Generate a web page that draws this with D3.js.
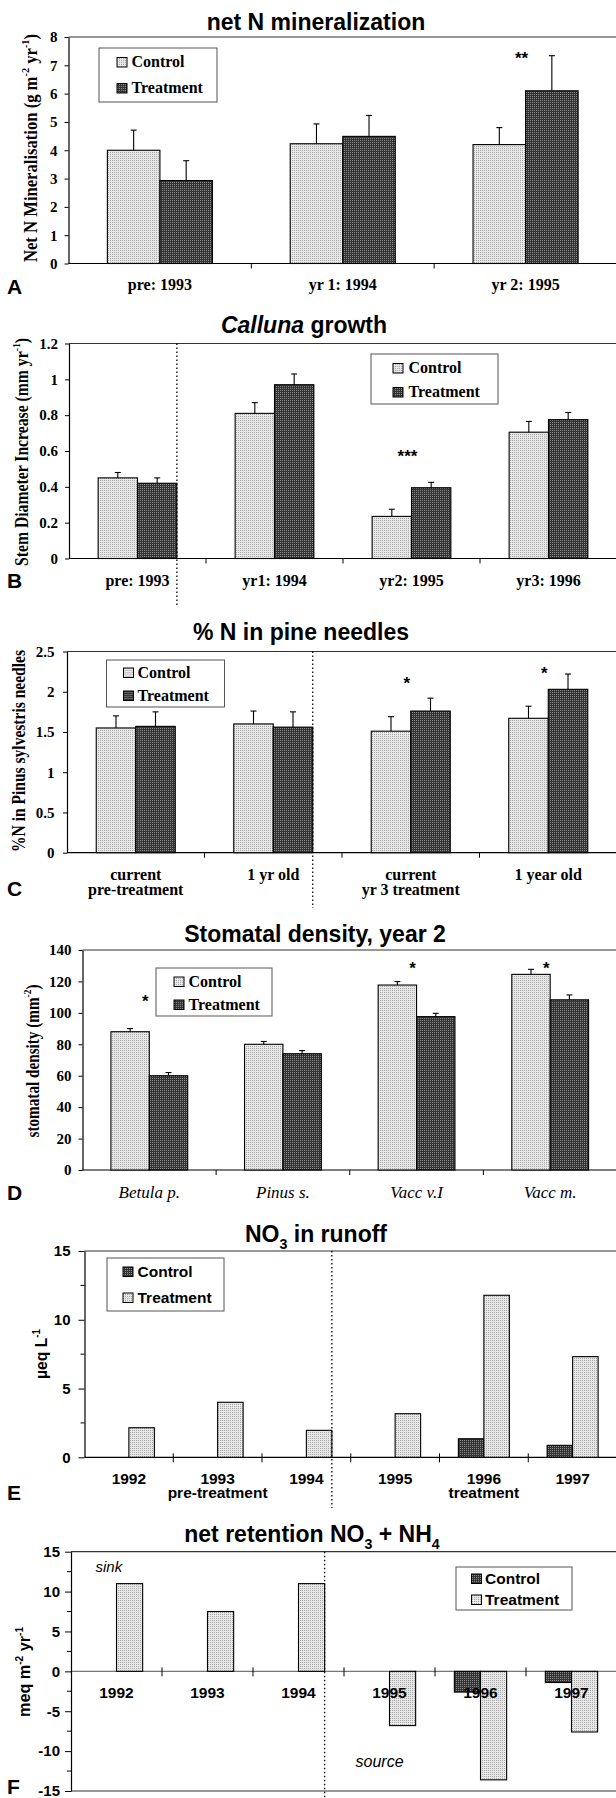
<!DOCTYPE html>
<html>
<head>
<meta charset="utf-8">
<script src="https://cdn.jsdelivr.net/npm/d3@7"></script>
<style>
  body { margin: 0; background: #fff; }
  svg { display: block; }
</style>
</head>
<body>
<script>
// ---- data ----
var aCats = [["pre: 1993"], ["yr 1: 1994"], ["yr 2: 1995"]];
var aControl = [4.0, 4.23, 4.2];
var aControlSE = [0.71, 0.7, 0.6];
var aTreat = [2.93, 4.49, 6.1];
var aTreatSE = [0.7, 0.74, 1.24];
var aTicks = [0, 1, 2, 3, 4, 5, 6, 7, 8];

var bCats = [["pre: 1993"], ["yr1: 1994"], ["yr2: 1995"], ["yr3: 1996"]];
var bControl = [0.45, 0.81, 0.235, 0.705];
var bControlSE = [0.03, 0.06, 0.04, 0.06];
var bTreat = [0.42, 0.97, 0.395, 0.775];
var bTreatSE = [0.03, 0.06, 0.03, 0.04];
var bTicks = [0, 0.2, 0.4, 0.6, 0.8, 1, 1.2];

var cCats = [["current", "pre-treatment"], ["1 yr old"], ["current", "yr 3 treatment"], ["1 year old"]];
var cControl = [1.55, 1.6, 1.51, 1.67];
var cControlSE = [0.15, 0.16, 0.18, 0.15];
var cTreat = [1.57, 1.56, 1.76, 2.03];
var cTreatSE = [0.18, 0.19, 0.16, 0.19];
var cTicks = [0, 0.5, 1, 1.5, 2, 2.5];

var dCats = [["Betula p."], ["Pinus s."], ["Vacc v.I"], ["Vacc m."]];
var dControl = [88, 80, 117.7, 124.5];
var dControlSE = [2, 1.8, 2.2, 3.2];
var dTreat = [60, 74, 97.6, 108.3];
var dTreatSE = [2, 2, 2.1, 3.1];
var dTicks = [0, 20, 40, 60, 80, 100, 120, 140];

var eCats = [["1992"], ["1993", "pre-treatment"], ["1994"], ["1995"], ["1996", "treatment"], ["1997"]];
var eControl = [0, 0, 0, 0, 1.35, 0.87];
var eTreat = [2.15, 4.0, 1.96, 3.17, 11.78, 7.32];
var eTicks = [0, 5, 10, 15];
var eMinor = [2.5, 7.5, 12.5];

var fCats = [["1992"], ["1993"], ["1994"], ["1995"], ["1996"], ["1997"]];
var fControl = [0, 0, 0, 0, -2.6, -1.4];
var fTreat = [11.0, 7.5, 11.0, -6.8, -13.6, -7.6];
var fTicks = [-15, -10, -5, 0, 5, 10, 15];
var fMinor = [-12.5, -7.5, -2.5, 2.5, 7.5, 12.5];

// significance marks: category index, text, height in data units
var aStars = [{ cat: 2, text: "**", v: 7.05 }];
var bStars = [{ cat: 2, text: "***", v: 0.54 }];
var cStars = [{ cat: 2, text: "*", v: 2.04 }, { cat: 3, text: "*", v: 2.16 }];
var dStars = [{ cat: 0, text: "*", v: 104 }, { cat: 2, text: "*", v: 125 }, { cat: 3, text: "*", v: 125 }];

var SERIF = "'Liberation Serif', 'Times New Roman', serif";
var SANS = "'Liberation Sans', Arial, sans-serif";

var svg = d3.select("body").append("svg")
    .attr("width", 616)
    .attr("height", 1798);

// stipple patterns like the printed figure
var defs = svg.append("defs");
function stipple(id, base, dot) {
    var p = defs.append("pattern")
        .attr("id", id)
        .attr("width", 2)
        .attr("height", 2)
        .attr("patternUnits", "userSpaceOnUse");
    p.append("rect").attr("width", 2).attr("height", 2).attr("fill", base);
    p.append("rect").attr("width", 1).attr("height", 1).attr("fill", dot);
}
stipple("light", "#e8e8e8", "#a6a6a6");
stipple("dark", "#333333", "#8c8c8c");

// text with super/subscripts: segs = [[text, "sup"|"sub"|undefined], ...]
function richText(textSel, segs, size) {
    var shift = 0;
    segs.forEach(function (s) {
        var target = s[1] === "sup" ? -0.42 * size : (s[1] === "sub" ? 0.3 * size : 0);
        var t = textSel.append("tspan")
            .attr("dy", target - shift)
            .attr("font-size", s[1] ? size * 0.62 : size)
            .text(s[0]);
        if (s[2]) t.attr("font-style", s[2]);
        shift = target;
    });
}

function drawPanel(p) {
    var g = svg.append("g");
    var n = p.cats.length;
    var x0 = d3.scaleBand().domain(d3.range(n)).range([p.left, p.right]);
    var x1 = d3.scaleBand().domain(p.series.map(function (s) { return s.key; }))
        .range([0, x0.bandwidth()])
        .paddingInner(0)
        .paddingOuter(0.74);
    var y = d3.scaleLinear().domain(p.yDomain).range([p.bottom, p.top]);

    // plot frame
    g.append("line")
        .attr("x1", p.left).attr("x2", p.right)
        .attr("y1", p.top).attr("y2", p.top)
        .attr("stroke", "#333").attr("stroke-width", 1.2);
    if (p.frameBottom) {
        g.append("line")
            .attr("x1", p.left).attr("x2", p.right)
            .attr("y1", p.bottom).attr("y2", p.bottom)
            .attr("stroke", "#333").attr("stroke-width", 1.2);
    }

    // category axis (zero line) with ticks on the category boundaries
    var y0 = y(0);
    g.append("line")
        .attr("x1", p.left).attr("x2", p.right)
        .attr("y1", y0).attr("y2", y0)
        .attr("stroke", p.zeroColor || "#000").attr("stroke-width", 1.2);
    g.selectAll(null).data(d3.range(1, n)).join("line")
        .attr("x1", function (i) { return x0(i); })
        .attr("x2", function (i) { return x0(i); })
        .attr("y1", y0 - (p.crossTicks ? 4 : 0))
        .attr("y2", y0 + 5)
        .attr("stroke", "#000").attr("stroke-width", 1);

    // bars
    p.series.forEach(function (s) {
        var idx = d3.range(n).filter(function (i) { return s.values[i] !== 0; });
        g.selectAll(null).data(idx).join("rect")
            .attr("x", function (i) { return x0(i) + x1(s.key); })
            .attr("y", function (i) { return y(Math.max(0, s.values[i])); })
            .attr("width", x1.bandwidth())
            .attr("height", function (i) { return Math.abs(y(s.values[i]) - y(0)); })
            .attr("fill", "url(#" + s.fill + ")")
            .attr("stroke", "#000")
            .attr("stroke-width", 1.1);
        if (s.se) {
            var eb = g.selectAll(null).data(idx).join("g")
                .attr("transform", function (i) {
                    return "translate(" + (x0(i) + x1(s.key) + x1.bandwidth() / 2) + ",0)";
                });
            eb.append("line")
                .attr("y1", function (i) { return y(s.values[i]); })
                .attr("y2", function (i) { return y(s.values[i] + s.se[i]); })
                .attr("stroke", "#000").attr("stroke-width", 1.1);
            eb.append("line")
                .attr("x1", -3).attr("x2", 3)
                .attr("y1", function (i) { return y(s.values[i] + s.se[i]); })
                .attr("y2", function (i) { return y(s.values[i] + s.se[i]); })
                .attr("stroke", "#000").attr("stroke-width", 1.1);
        }
    });

    // value axis
    var ax = d3.axisLeft(y)
        .tickValues(p.yTicks)
        .tickSize(p.minor ? 6 : 4)
        .tickSizeOuter(0)
        .tickPadding(p.tickPad)
        .tickFormat(d3.format("~g"));
    var axg = g.append("g")
        .attr("transform", "translate(" + p.left + ",0)")
        .call(ax);
    axg.select(".domain").attr("stroke", "#000").attr("stroke-width", 1.2);
    axg.selectAll("text")
        .attr("font-family", p.tickFont)
        .attr("font-weight", "bold")
        .attr("font-size", p.tickSize)
        .attr("fill", "#000")
        .text(function (d) { return d3.format("~g")(d).replace("\u2212", "-"); });
    if (p.minor) {
        axg.selectAll(null).data(p.minor).join("line")
            .attr("x1", -4).attr("x2", 0)
            .attr("y1", function (d) { return y(d); })
            .attr("y2", function (d) { return y(d); })
            .attr("stroke", "#000");
    }

    // value axis title
    var yt = g.append("text")
        .attr("transform", "translate(" + p.yTitleX + "," + p.yTitleY + ") rotate(-90)")
        .attr("text-anchor", "middle")
        .attr("font-family", p.yTitleFont)
        .attr("font-weight", "bold")
        .attr("textLength", p.yTitleLen)
        .attr("lengthAdjust", "spacingAndGlyphs");
    richText(yt, p.yTitle, p.yTitleSize);

    // category labels
    p.cats.forEach(function (lines, i) {
        var t = g.append("text")
            .attr("x", x0(i) + x0.bandwidth() / 2)
            .attr("y", p.labelY)
            .attr("text-anchor", "middle")
            .attr("font-family", p.labelFont)
            .attr("font-weight", p.labelWeight || "bold")
            .attr("font-style", p.labelStyle || "normal")
            .attr("font-size", p.labelSize);
        lines.forEach(function (l, k) {
            t.append("tspan")
                .attr("x", x0(i) + x0.bandwidth() / 2)
                .attr("dy", k === 0 ? 0 : p.labelLine)
                .text(l);
        });
    });

    // dotted separator between pre-treatment and treatment groups
    if (p.divider !== undefined) {
        var last = p.series[p.series.length - 1].key;
        var dx = x0(p.divider) + x1(last) + x1.bandwidth();
        g.append("line")
            .attr("x1", dx).attr("x2", dx)
            .attr("y1", p.top).attr("y2", p.dividerEnd)
            .attr("stroke", "#000")
            .attr("stroke-width", 1.3)
            .attr("stroke-dasharray", "1.6,2.4");
    }

    // significance stars
    (p.stars || []).forEach(function (s) {
        g.append("text")
            .attr("x", x0(s.cat) + x0.bandwidth() / 2 - 4)
            .attr("y", y(s.v))
            .attr("text-anchor", "middle")
            .attr("font-family", SANS)
            .attr("font-weight", "bold")
            .attr("font-size", 17)
            .text(s.text);
    });

    // chart title
    var tt = g.append("text")
        .attr("x", p.titleX)
        .attr("y", p.titleY)
        .attr("text-anchor", "middle")
        .attr("font-family", SANS)
        .attr("font-weight", "bold");
    richText(tt, p.title, 23);

    // legend
    var L = p.legend;
    var lg = g.append("g").attr("transform", "translate(" + L.x + "," + L.y + ")");
    lg.append("rect")
        .attr("width", L.w).attr("height", L.h)
        .attr("fill", "#fff")
        .attr("stroke", "#555").attr("stroke-width", 1);
    p.series.forEach(function (s, k) {
        var by = L.rows[k];
        lg.append("rect")
            .attr("x", L.sx).attr("y", by - 9.5)
            .attr("width", 10).attr("height", 9.5)
            .attr("fill", "url(#" + s.fill + ")")
            .attr("stroke", "#000").attr("stroke-width", 1);
        lg.append("text")
            .attr("x", L.tx).attr("y", by)
            .attr("font-family", p.legendFont)
            .attr("font-weight", "bold")
            .attr("font-size", p.legendSize)
            .text(s.key);
    });

    // panel letter
    g.append("text")
        .attr("x", 7)
        .attr("y", p.letterY)
        .attr("font-family", SANS)
        .attr("font-weight", "bold")
        .attr("font-size", 21)
        .text(p.letter);

    return { x0: x0, y: y, g: g };
}

var serifPanel = {
    right: 617, tickFont: SERIF, tickSize: 15, yTitleFont: SERIF, yTitleSize: 18,
    labelFont: SERIF, labelSize: 16, labelLine: 15, legendFont: SERIF, legendSize: 16
};
var sansPanel = {
    right: 617, tickFont: SANS, tickSize: 15, yTitleFont: SANS, yTitleSize: 17,
    labelFont: SANS, labelSize: 15.5, labelLine: 14, legendFont: SANS, legendSize: 15.5, crossTicks: true
};

drawPanel(Object.assign({}, serifPanel, {
    cats: aCats,
    series: [
        { key: "Control", values: aControl, se: aControlSE, fill: "light" },
        { key: "Treatment", values: aTreat, se: aTreatSE, fill: "dark" }
    ],
    left: 68.5, top: 37, bottom: 263.5, yDomain: [0, 8], yTicks: aTicks, tickPad: 7,
    yTitle: [["Net N Mineralisation (g m"], ["-2", "sup"], [" yr"], ["-1", "sup"], [")"]],
    yTitleX: 36.5, yTitleY: 148, yTitleLen: 228,
    labelY: 290, stars: aStars,
    title: [["net N mineralization"]], titleX: 316, titleY: 30,
    legend: { x: 99, y: 48, w: 118, h: 54, sx: 18, tx: 32.5, rows: [19, 45] },
    letter: "A", letterY: 294
}));

drawPanel(Object.assign({}, serifPanel, {
    cats: bCats,
    series: [
        { key: "Control", values: bControl, se: bControlSE, fill: "light" },
        { key: "Treatment", values: bTreat, se: bTreatSE, fill: "dark" }
    ],
    left: 69, top: 343.5, bottom: 558.5, yDomain: [0, 1.2], yTicks: bTicks, tickPad: 7,
    yTitle: [["Stem Diameter Increase (mm yr"], ["-1", "sup"], [")"]],
    yTitleX: 27.5, yTitleY: 452, yTitleLen: 228,
    labelY: 586, stars: bStars, divider: 0, dividerEnd: 606,
    title: [["Calluna", null, "italic"], [" growth"]], titleX: 304, titleY: 333,
    legend: { x: 371, y: 354, w: 127, h: 50, sx: 22, tx: 37.5, rows: [19, 43] },
    letter: "B", letterY: 588
}));

drawPanel(Object.assign({}, serifPanel, {
    cats: cCats,
    series: [
        { key: "Control", values: cControl, se: cControlSE, fill: "light" },
        { key: "Treatment", values: cTreat, se: cTreatSE, fill: "dark" }
    ],
    left: 67, top: 651.5, bottom: 852.7, yDomain: [0, 2.5], yTicks: cTicks, tickPad: 8.5,
    yTitle: [["%N in Pinus sylvestris needles"]],
    yTitleX: 25, yTitleY: 751, yTitleLen: 202,
    labelY: 880, stars: cStars, divider: 1, dividerEnd: 908,
    title: [["% N in pine needles"]], titleX: 301, titleY: 640,
    legend: { x: 106.5, y: 660, w: 118, h: 47, sx: 17, tx: 31, rows: [17.5, 40.5] },
    letter: "C", letterY: 896
}));

drawPanel(Object.assign({}, serifPanel, {
    cats: dCats,
    series: [
        { key: "Control", values: dControl, se: dControlSE, fill: "light" },
        { key: "Treatment", values: dTreat, se: dTreatSE, fill: "dark" }
    ],
    left: 82.5, top: 950, bottom: 1170, yDomain: [0, 140], yTicks: dTicks, tickPad: 7,
    yTitle: [["stomatal density (mm"], ["-2", "sup"], [")"]],
    yTitleX: 39, yTitleY: 1061, yTitleLen: 153,
    labelY: 1198, labelWeight: "normal", labelStyle: "italic", labelSize: 17,
    stars: dStars,
    title: [["Stomatal density, year 2"]], titleX: 315, titleY: 942,
    legend: { x: 156, y: 968, w: 116, h: 48, sx: 18, tx: 32.5, rows: [18.5, 41.5] },
    letter: "D", letterY: 1200
}));

drawPanel(Object.assign({}, sansPanel, {
    cats: eCats,
    series: [
        { key: "Control", values: eControl, fill: "dark" },
        { key: "Treatment", values: eTreat, fill: "light" }
    ],
    left: 84.5, top: 1251, bottom: 1457.3, yDomain: [0, 15], yTicks: eTicks, tickPad: 8,
    minor: eMinor,
    yTitle: [["\u00b5eq L"], ["-1", "sup"]],
    yTitleX: 47, yTitleY: 1354, yTitleLen: 50,
    labelY: 1484, divider: 2, dividerEnd: 1508,
    title: [["NO"], ["3", "sub"], [" in runoff"]], titleX: 316, titleY: 1242,
    legend: { x: 107, y: 1258, w: 117, h: 53, sx: 16, tx: 30.5, rows: [18.5, 44.5] },
    letter: "E", letterY: 1500
}));

var f = drawPanel(Object.assign({}, sansPanel, {
    cats: fCats,
    series: [
        { key: "Control", values: fControl, fill: "dark" },
        { key: "Treatment", values: fTreat, fill: "light" }
    ],
    left: 71, top: 1551.7, bottom: 1791, frameBottom: true, zeroColor: "#777",
    yDomain: [-15, 15], yTicks: fTicks, tickPad: 5,
    minor: fMinor,
    yTitle: [["meq m"], ["-2", "sup"], [" yr"], ["-1", "sup"]],
    yTitleX: 30, yTitleY: 1672, yTitleLen: 90,
    labelY: 1698, divider: 2, dividerEnd: 1798,
    title: [["net retention NO"], ["3", "sub"], [" + NH"], ["4", "sub"]], titleX: 312, titleY: 1542,
    legend: { x: 456, y: 1567, w: 116, h: 43, sx: 15.5, tx: 29, rows: [16.5, 37.5] },
    letter: "F", letterY: 1794
}));

// sink / source notes on panel F
f.g.append("text")
    .attr("x", 95.5).attr("y", f.y(12.5))
    .attr("font-family", SANS).attr("font-style", "italic").attr("font-size", 15)
    .text("sink");
f.g.append("text")
    .attr("x", 355.5).attr("y", f.y(-12))
    .attr("font-family", SANS).attr("font-style", "italic").attr("font-size", 16)
    .text("source");
</script>
</body>
</html>
